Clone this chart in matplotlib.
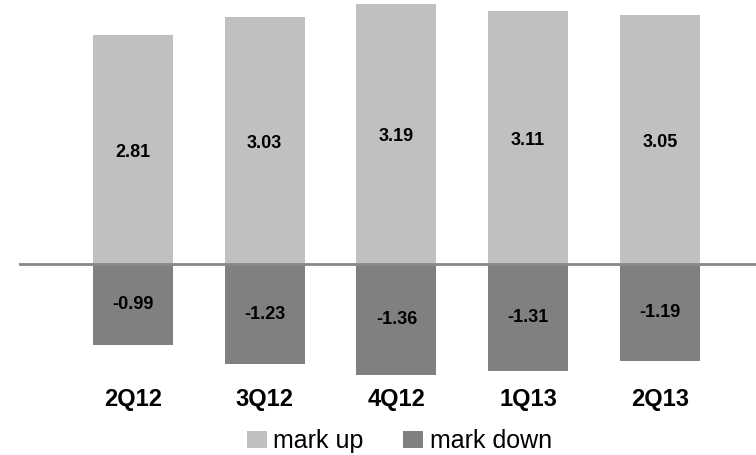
import numpy as np
import matplotlib.pyplot as plt

plt.rcParams['font.family'] = ['Liberation Sans', 'DejaVu Sans']

quarters = ['2Q12', '3Q12', '4Q12', '1Q13', '2Q13']
mark_up = [2.81, 3.03, 3.19, 3.11, 3.05]
mark_down = [-0.99, -1.23, -1.36, -1.31, -1.19]

fig = plt.figure(figsize=(7.56, 4.55), dpi=100)
ax = fig.add_axes([19 / 756, 0, 1 - 19 / 756, 1])

x = np.arange(len(quarters))
w = 0.607
ax.bar(x, mark_up, w, color='#c0c0c0', label='mark up')
ax.bar(x, mark_down, w, color='#808080', label='mark down')
ax.axhline(0, color='#888888', lw=2)

for i in range(len(quarters)):
    ax.annotate('%.2f' % mark_up[i], (x[i], mark_up[i] / 2), xytext=(0, -2),
                textcoords='offset points', ha='center', va='center',
                fontsize=13, fontweight='bold')
    ax.annotate('%.2f' % mark_down[i], (x[i], mark_down[i] / 2),
                ha='center', va='center', fontsize=13, fontweight='bold')
    ax.text(x[i], -1.66, quarters[i], ha='center', va='center',
            fontsize=17, fontweight='bold')

ax.set_xlim(-0.865, 4.73)
ax.set_ylim(-2.34, 3.24)
ax.axis('off')

fig.legend(loc='center', bbox_to_anchor=(0.528, 1 - 441 / 455), ncol=2,
           frameon=False, fontsize=18, handlelength=0.8, handleheight=0.7,
           handletextpad=0.25, columnspacing=1.6, borderpad=0)

fig.savefig('out.png', dpi=100)
